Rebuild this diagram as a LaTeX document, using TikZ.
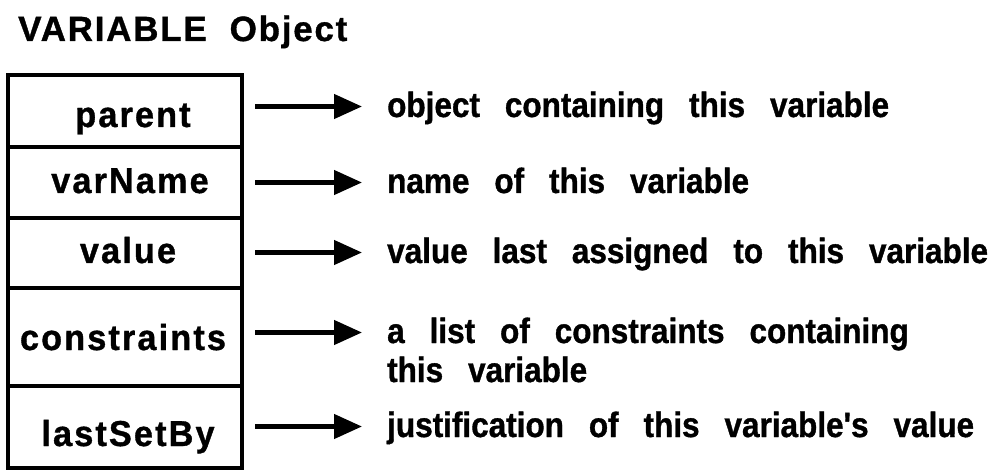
\documentclass[tikz,border=0pt]{standalone}
\usepackage{fontspec}
\setmainfont{Liberation Sans}
\newfontfamily\rowfont{Liberation Sans}[LetterSpace=6,FakeStretch=0.95,FakeBold=1]
\newfontfamily\descfont{Liberation Sans}[WordSpace=2.85,FakeStretch=0.9,FakeBold=1]
\newfontfamily\titlefont{Liberation Sans}[LetterSpace=5,WordSpace=2,FakeBold=1]
\usetikzlibrary{arrows.meta}
\begin{document}
\begin{tikzpicture}[x=1pt,y=-1pt,
  rowbox/.style={draw, line width=4pt, minimum width=234pt, inner sep=0pt},
  rowlab/.style={anchor=base, inner sep=0pt,
    font=\rowfont\bfseries\fontsize{36}{40}\selectfont},
  desc/.style={anchor=west, inner sep=0pt,
    font=\descfont\bfseries\fontsize{35}{40}\selectfont, text height=21pt, text depth=0pt},
  arr/.style={line width=4.5pt, -{Triangle[length=28pt,width=24pt]},
    shorten <=11pt, shorten >=25pt}]
\useasboundingbox (0,0) rectangle (1006,470);
\node[anchor=base west, inner sep=0pt,
  font=\titlefont\bfseries\fontsize{35}{40}\selectfont] (title) at (18,41) {VARIABLE Object};
\node[rowbox, minimum height=72pt] (r1) at (125,111) {};
\node[rowbox, minimum height=71pt] (r2) at (125,182.5) {};
\node[rowbox, minimum height=70pt] (r3) at (125,253) {};
\node[rowbox, minimum height=98pt] (r4) at (125,337) {};
\node[rowbox, minimum height=82pt] (r5) at (125,427) {};
\node[rowlab] (l1) at (133,127) {parent};
\node[rowlab] (l2) at (130,193) {varName};
\node[rowlab] (l3) at (128,263) {value};
\node[rowlab] (l4) at (123,350) {constraints};
\node[rowlab] (l5) at (128,446) {lastSetBy};
\node[desc] (d1) at (387,106.5) {object containing this variable};
\node[desc] (d2) at (387,182.5) {name of this variable};
\node[desc] (d3) at (387,252.5) {value last assigned to this variable};
\node[desc] (d4) at (387,332.5) {a list of constraints containing};
\node[desc] (d4b) at (387,371.5) {this variable};
\node[desc] (d5) at (387,426.5) {justification of this variable's value};
\draw[arr] (r1.east |- d1.west) -- (d1.west);
\draw[arr] (r2.east |- d2.west) -- (d2.west);
\draw[arr] (r3.east |- d3.west) -- (d3.west);
\draw[arr] (r4.east |- d4.west) -- (d4.west);
\draw[arr] (r5.east |- d5.west) -- (d5.west);
\end{tikzpicture}
\end{document}
